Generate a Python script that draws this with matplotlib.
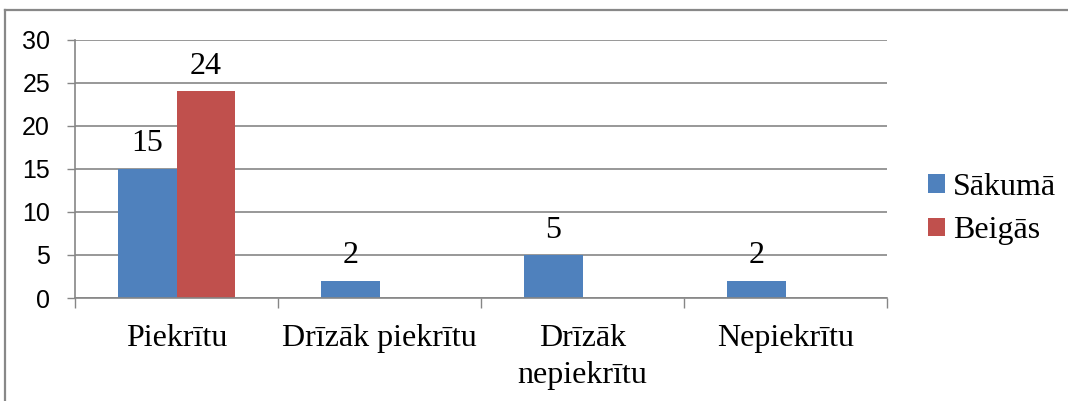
import matplotlib
matplotlib.use("Agg")
import matplotlib.pyplot as plt
import numpy as np
from matplotlib.lines import Line2D
from matplotlib.patches import Patch

categories = ["Piekrītu", "Drīzāk piekrītu", "Drīzāk\nnepiekrītu", "Nepiekrītu"]
series_names = ["Sākumā", "Beigās"]
sakuma = [15, 2, 5, 2]
beigas = [24, 0, 0, 0]
yticks = [0, 5, 10, 15, 20, 25, 30]

blue = "#4F81BD"
red = "#C0504D"
grid_c = "#868686"

W, H = 1068, 401
fig = plt.figure(figsize=(W / 100, H / 100), dpi=100)
ax = fig.add_axes([75 / W, (H - 298) / H, (887 - 75) / W, (298 - 39.5) / H])

x = np.arange(len(categories))
bw = 0.286
b1 = ax.bar(x - bw / 2, sakuma, width=bw, color=blue, edgecolor="none", label=series_names[0])
b2 = ax.bar(x + bw / 2, beigas, width=bw, color=red, edgecolor="none", label=series_names[1])

serif = "Liberation Serif"
for bars, vals in ((b1, sakuma), (b2, beigas)):
    ax.bar_label(bars, labels=[str(v) if v else "" for v in vals], padding=7.5,
                 fontsize=23, family=serif, color="black")

ax.set_xlim(-0.5, len(categories) - 0.5)
ax.set_ylim(0, 30)
ax.set_yticks(yticks)
ax.set_yticklabels([str(t) for t in yticks], family="Liberation Sans", fontsize=18)
ax.tick_params(axis="y", length=6, width=1, color=grid_c, pad=12)

ax.set_xticks(np.arange(len(categories) + 1) - 0.5)
ax.set_xticklabels([])
ax.tick_params(axis="x", which="major", length=7.5, width=1, color=grid_c, direction="out")
ax.set_xticks(x, minor=True)
ax.set_xticklabels(categories, minor=True, family=serif, fontsize=23, linespacing=1.4)
ax.tick_params(axis="x", which="minor", length=0, pad=18.5)

ax.yaxis.grid(True, color=grid_c, linewidth=1.2)
ax.set_axisbelow(True)
for s in ("top", "right"):
    ax.spines[s].set_visible(False)
for s in ("left", "bottom"):
    ax.spines[s].set_color(grid_c)
    ax.spines[s].set_linewidth(1.2)

handles = [Patch(facecolor=blue, edgecolor="none"), Patch(facecolor=red, edgecolor="none")]
fig.legend(handles, series_names, loc="center left", bbox_to_anchor=(928 / W, (H - 209) / H),
           frameon=False, prop={"family": serif, "size": 23}, handlelength=0.52,
           handleheight=0.52, handletextpad=0.25, labelspacing=0.45, borderpad=0,
           borderaxespad=0)

fig.add_artist(Line2D([5 / W, 1.0], [(H - 10) / H, (H - 10) / H], transform=fig.transFigure,
                      color="#888888", linewidth=1.6))
fig.add_artist(Line2D([5 / W, 5 / W], [(H - 10) / H, 0], transform=fig.transFigure,
                      color="#888888", linewidth=1.6))

fig.savefig("out.png", dpi=100)
